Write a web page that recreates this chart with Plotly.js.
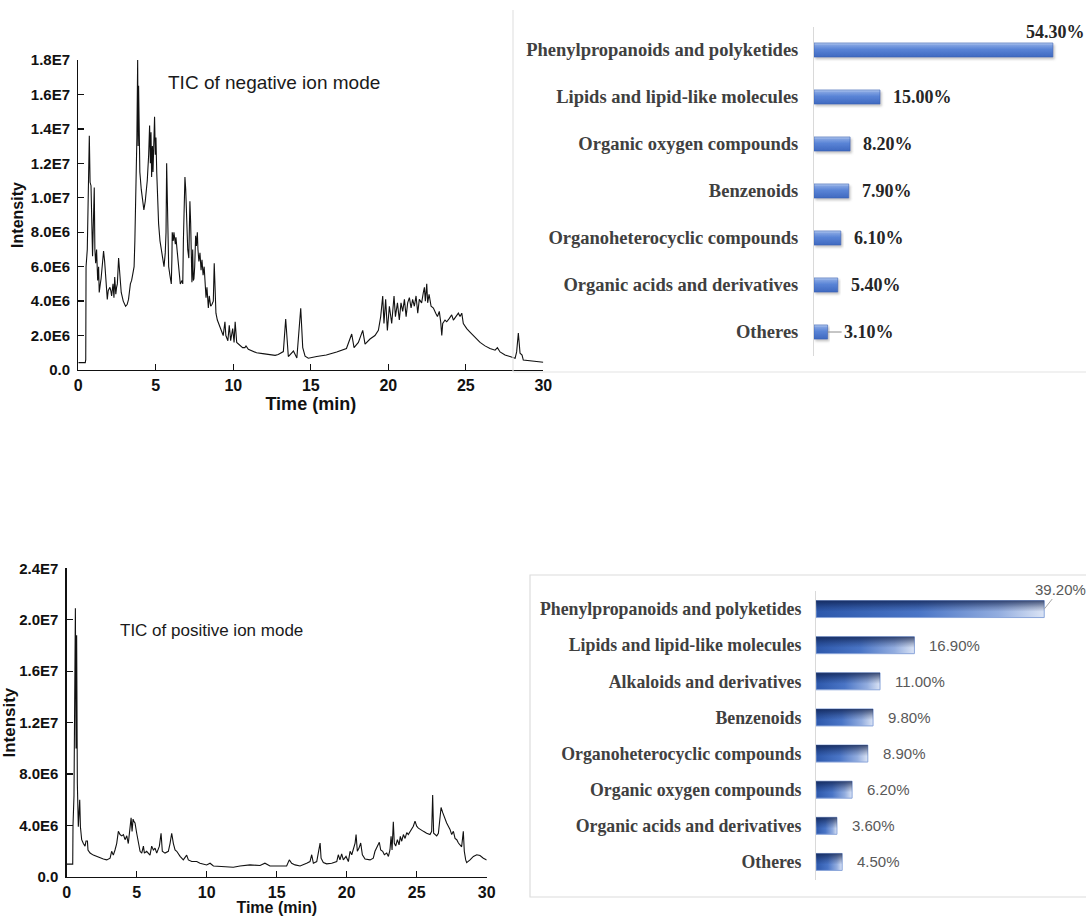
<!DOCTYPE html>
<html>
<head>
<meta charset="utf-8">
<script src="https://cdn.plot.ly/plotly-3.0.1.min.js"></script>
<style>
  html, body { margin: 0; padding: 0; background: #ffffff; }
  #chart { width: 1086px; height: 916px; }
</style>
</head>
<body>
<div id="chart"></div>
<script>
// ---- Total ion chromatogram, negative ion mode (time in min, intensity in units of 1E6) ----
const negTime = [
  0, 0.45, 0.48, 0.5, 0.58, 0.66, 0.71, 0.76, 0.82, 0.92, 0.97, 1.03, 1.07, 1.12, 1.18, 1.22, 1.25, 1.31, 1.35, 1.42,
  1.47, 1.57, 1.63, 1.7, 1.76, 1.87, 1.93, 2.04, 2.1, 2.15, 2.24, 2.3, 2.35, 2.42, 2.47, 2.52, 2.6, 2.68, 2.77, 2.9,
  3.05, 3.15, 3.24, 3.36, 3.44, 3.52, 3.6, 3.65, 3.72, 3.78, 3.83, 3.86, 3.89, 3.93, 3.97, 4.06, 4.15, 4.23, 4.32, 4.4,
  4.45, 4.54, 4.6, 4.65, 4.69, 4.73, 4.78, 4.82, 4.86, 4.92, 4.97, 5.01, 5.06, 5.12, 5.18, 5.27, 5.35, 5.42, 5.53, 5.61,
  5.66, 5.7, 5.76, 5.83, 5.91, 6.0, 6.04, 6.06, 6.13, 6.17, 6.26, 6.3, 6.37, 6.43, 6.52, 6.58, 6.69, 6.74, 6.78, 6.84,
  6.88, 6.93, 6.99, 7.06, 7.13, 7.17, 7.2, 7.25, 7.29, 7.33, 7.38, 7.42, 7.46, 7.51, 7.57, 7.62, 7.68, 7.72, 7.78, 7.85,
  7.92, 7.98, 8.05, 8.12, 8.17, 8.24, 8.3, 8.39, 8.45, 8.54, 8.62, 8.71, 8.77, 8.82, 8.88, 8.97, 9.05, 9.14, 9.25, 9.35,
  9.46, 9.52, 9.65, 9.74, 9.83, 9.96, 10.05, 10.12, 10.22, 10.33, 10.44, 10.6, 10.75, 10.82, 10.97, 11.2, 11.5, 11.9, 12.37, 12.7,
  12.9, 13.23, 13.38, 13.55, 13.88, 14.1, 14.35, 14.48, 14.63, 14.84, 15.38, 16.0, 16.67, 17.3, 17.64, 17.79, 18.07, 18.35, 18.5, 18.82,
  19.14, 19.36, 19.51, 19.64, 19.72, 19.83, 19.94, 20.07, 20.22, 20.37, 20.46, 20.59, 20.71, 20.82, 20.93, 21.04, 21.15, 21.25, 21.36, 21.47,
  21.57, 21.68, 21.79, 21.9, 22.0, 22.15, 22.26, 22.33, 22.39, 22.48, 22.54, 22.63, 22.76, 22.91, 23.06, 23.17, 23.29, 23.38, 23.45, 23.51,
  23.66, 23.77, 23.94, 24.09, 24.2, 24.35, 24.52, 24.63, 24.74, 24.84, 25.06, 25.27, 25.6, 25.92, 26.24, 26.56, 26.89, 27.04, 27.21, 27.53,
  27.85, 28.18, 28.28, 28.39, 28.5, 28.63, 28.71, 29.04, 29.57, 30.0
];
const negIntensity = [
  0.43, 0.43, 0.6, 6.0, 7.0, 12.5, 13.6, 10.9, 10.7, 6.6, 8.5, 10.6, 7.0, 6.2, 7.0, 5.8, 5.2, 6.0, 4.5, 5.0,
  5.3, 6.3, 6.9, 6.3, 5.5, 4.1, 4.6, 4.8, 4.6, 4.3, 5.0, 4.2, 5.4, 4.4, 4.8, 5.0, 6.5, 5.3, 4.5, 4.0,
  3.7, 3.8, 4.1, 5.0, 5.2, 5.6, 6.0, 7.5, 10.5, 13.5, 18.0, 13.0, 16.5, 12.8, 11.5, 10.5, 10.0, 9.3, 9.8, 10.4,
  11.0, 12.5, 14.2, 12.0, 13.8, 11.2, 13.0, 11.5, 13.0, 14.7, 12.5, 13.5, 11.5, 10.0, 8.5, 7.5, 7.0, 6.5, 6.0, 6.8,
  8.0, 12.0, 8.5, 6.0, 5.5, 5.0, 6.5, 8.0, 7.5, 8.0, 7.3, 7.7, 7.0, 6.3, 5.5, 5.0, 5.2, 5.0, 7.5, 10.0,
  11.2, 10.5, 9.0, 7.0, 6.5, 8.0, 9.8, 8.5, 6.0, 5.1, 7.0, 5.2, 5.3, 6.0, 7.8, 7.2, 8.0, 7.0, 6.3, 6.8,
  5.8, 6.4, 5.5, 6.0, 4.8, 4.2, 4.8, 3.6, 4.3, 3.7, 3.8, 4.0, 6.2, 4.0, 3.3, 2.9, 2.7, 2.5, 2.2, 2.0,
  2.8, 2.0, 1.7, 2.6, 1.7, 2.4, 1.6, 2.8, 1.6, 1.5, 1.4, 1.3, 1.3, 1.4, 1.2, 1.1, 1.0, 0.95, 0.9, 0.85,
  0.9, 1.07, 2.96, 0.78, 1.1, 0.7, 3.59, 1.3, 0.8, 0.68, 0.78, 0.87, 1.05, 1.25, 2.09, 1.3, 1.6, 2.3, 1.5, 1.8,
  2.0, 2.3, 3.1, 4.3, 2.7, 4.1, 2.3, 3.7, 2.7, 4.3, 3.1, 3.9, 2.9, 3.9, 3.4, 4.1, 3.1, 3.9, 4.2, 3.6,
  4.1, 3.7, 4.3, 3.3, 4.1, 3.9, 4.5, 4.8, 4.0, 5.0, 3.9, 4.4, 3.7, 3.6, 3.3, 3.1, 3.4, 2.8, 2.0, 2.7,
  2.9, 2.8, 3.0, 3.2, 2.9, 3.1, 3.3, 3.1, 3.3, 2.7, 2.4, 2.2, 1.9, 1.6, 1.4, 1.25, 1.15, 1.3, 1.05, 0.87,
  0.78, 0.68, 1.05, 2.15, 0.97, 0.87, 0.58, 0.55, 0.49, 0.45
];

// ---- Total ion chromatogram, positive ion mode (time in min, intensity in units of 1E6) ----
const posTime = [
  0, 0.43, 0.45, 0.52, 0.62, 0.67, 0.71, 0.76, 0.83, 0.88, 0.93, 0.98, 1.07, 1.19, 1.31, 1.38, 1.48, 1.52, 1.67, 1.9,
  2.14, 2.38, 2.62, 2.86, 3.1, 3.21, 3.33, 3.45, 3.57, 3.69, 3.81, 3.93, 4.05, 4.17, 4.29, 4.4, 4.52, 4.6, 4.67, 4.74,
  4.81, 4.88, 5.0, 5.12, 5.24, 5.36, 5.48, 5.55, 5.71, 5.95, 6.07, 6.19, 6.31, 6.43, 6.62, 6.74, 6.83, 7.02, 7.26, 7.38,
  7.5, 7.62, 7.74, 7.86, 8.1, 8.33, 8.57, 8.69, 8.93, 9.29, 9.52, 10.0, 10.24, 10.48, 10.95, 11.9, 12.38, 13.09, 13.81, 14.16,
  14.52, 15.24, 15.71, 15.9, 16.07, 16.31, 16.67, 17.14, 17.38, 17.5, 17.62, 17.86, 18.1, 18.17, 18.33, 18.57, 18.93, 19.29, 19.4, 19.52,
  19.64, 19.76, 19.95, 20.12, 20.24, 20.36, 20.48, 20.6, 20.67, 20.76, 20.88, 21.0, 21.12, 21.31, 21.67, 21.9, 22.02, 22.19, 22.33, 22.43,
  22.57, 22.69, 22.86, 22.98, 23.09, 23.17, 23.24, 23.33, 23.4, 23.5, 23.62, 23.74, 23.83, 23.93, 24.05, 24.17, 24.29, 24.4, 24.52, 24.64,
  24.76, 24.88, 25.0, 25.12, 25.24, 25.48, 25.71, 25.95, 26.07, 26.14, 26.21, 26.31, 26.43, 26.55, 26.67, 26.74, 26.86, 27.02, 27.14, 27.26,
  27.38, 27.5, 27.62, 27.74, 27.86, 27.98, 28.1, 28.21, 28.33, 28.4, 28.5, 28.57, 28.81, 29.05, 29.29, 29.52, 29.76, 30.0
];
const posIntensity = [
  1.0, 1.0, 4.0, 6.3, 20.9, 10.0, 18.8, 7.3, 3.9, 5.3, 6.0, 3.9, 2.9, 2.6, 2.4, 2.8, 2.8, 2.1, 1.86, 1.7,
  1.6, 1.46, 1.4, 1.33, 1.46, 2.0, 1.7, 2.1, 2.6, 3.55, 3.3, 3.2, 3.3, 2.9, 3.2, 2.6, 3.95, 4.6, 3.55, 4.5,
  4.3, 4.2, 3.4, 2.5, 2.0, 1.86, 2.4, 1.86, 2.0, 1.7, 2.4, 2.1, 2.25, 1.86, 2.4, 3.4, 2.0, 1.86, 2.0, 2.6,
  3.4, 2.6, 2.1, 2.0, 1.6, 1.33, 1.7, 1.33, 1.2, 1.2, 1.07, 0.94, 1.07, 0.86, 0.81, 0.76, 0.86, 0.94, 0.89, 1.07,
  0.86, 0.86, 0.86, 1.33, 1.07, 0.94, 0.86, 1.07, 1.2, 1.73, 1.07, 1.2, 2.64, 1.46, 1.12, 1.02, 1.07, 1.2, 1.73, 1.33,
  1.8, 1.33, 1.6, 1.2, 2.0, 1.73, 2.1, 2.64, 3.3, 2.0, 2.25, 2.64, 1.73, 1.39, 1.33, 1.46, 2.0, 2.4, 2.7, 2.1,
  2.0, 1.73, 1.86, 1.6, 2.1, 3.16, 2.1, 4.3, 2.64, 2.4, 2.9, 2.5, 3.16, 2.78, 3.3, 3.0, 3.45, 3.3, 3.55, 3.7,
  3.95, 4.34, 3.95, 3.8, 3.7, 3.55, 3.4, 3.3, 3.55, 6.38, 3.4, 3.3, 3.2, 3.4, 4.73, 5.4, 5.0, 4.5, 4.2, 3.95,
  3.7, 3.3, 3.55, 3.0, 2.9, 2.64, 2.5, 2.35, 3.55, 2.0, 1.33, 1.12, 1.33, 1.6, 1.73, 1.67, 1.46, 1.33
];

// ---- Intensity tick labels ----
const negTickVals = [0, 2, 4, 6, 8, 10, 12, 14, 16, 18];
const negTickText = ['0.0', '2.0E6', '4.0E6', '6.0E6', '8.0E6', '1.0E7', '1.2E7', '1.4E7', '1.6E7', '1.8E7'];
const posTickVals = [0, 4, 8, 12, 16, 20, 24];
const posTickText = ['0.0', '4.0E6', '8.0E6', '1.2E7', '1.6E7', '2.0E7', '2.4E7'];
const timeTicks = [0, 5, 10, 15, 20, 25, 30];

// ---- Compound class shares (%) ----
const negClasses = ['Phenylpropanoids and polyketides', 'Lipids and lipid-like molecules', 'Organic oxygen compounds',
  'Benzenoids', 'Organoheterocyclic compounds', 'Organic acids and derivatives', 'Otheres'];
const negShares = [54.3, 15.0, 8.2, 7.9, 6.1, 5.4, 3.1];
const posClasses = ['Phenylpropanoids and polyketides', 'Lipids and lipid-like molecules', 'Alkaloids and derivatives',
  'Benzenoids', 'Organoheterocyclic compounds', 'Organic oxygen compounds', 'Organic acids and derivatives', 'Otheres'];
const posShares = [39.2, 16.9, 11.0, 9.8, 8.9, 6.2, 3.6, 4.5];

const W = 1086, H = 916;
const px = v => v / W;            // pixel column -> paper x
const py = v => 1 - v / H;        // pixel row -> paper y

const SANS = 'Liberation Sans, Arial, Helvetica, sans-serif';
const SERIF = 'Liberation Serif, Times New Roman, serif';
const INK = '#111111';

const data = [
  { type: 'scatter', mode: 'lines', x: negTime, y: negIntensity, xaxis: 'x', yaxis: 'y',
    line: { color: INK, width: 1.1 }, hoverinfo: 'skip' },
  { type: 'bar', orientation: 'h', x: negShares, y: negClasses, xaxis: 'x2', yaxis: 'y2',
    width: 0.3, marker: { color: '#4a76cd', line: { color: '#3b63b6', width: 0.6 } }, hoverinfo: 'skip' },
  { type: 'scatter', mode: 'lines', x: posTime, y: posIntensity, xaxis: 'x3', yaxis: 'y3',
    line: { color: INK, width: 1.1 }, hoverinfo: 'skip' },
  { type: 'bar', orientation: 'h', x: posShares, y: posClasses, xaxis: 'x4', yaxis: 'y4',
    width: 0.47, marker: { color: '#3d68bb', line: { color: '#8aa5da', width: 1 } }, hoverinfo: 'skip' }
];

const ticAxis = {
  showline: true, linecolor: INK, linewidth: 1.3, ticks: 'inside', ticklen: 6, tickwidth: 1.3, tickcolor: INK,
  showgrid: false, zeroline: false, fixedrange: true
};

// Value labels next to each bar, positioned from the share values
const annotations = [];
negShares.forEach((v, i) => {
  const base = { xref: 'x2', yref: 'y2', x: v, y: negClasses[i], text: v.toFixed(2) + '%',
    font: { family: SERIF, size: 18, color: '#262626', weight: 'bold' } };
  if (i === 0) {
    annotations.push(Object.assign(base, { showarrow: false, xanchor: 'center', yanchor: 'middle', xshift: 3, yshift: 18 }));
  } else if (v < 4) {
    annotations.push(Object.assign(base, { showarrow: true, arrowhead: 0, arrowwidth: 1, arrowcolor: '#8c8c8c',
      ax: 14, ay: 0, xanchor: 'left', yanchor: 'middle' }));
  } else {
    annotations.push(Object.assign(base, { showarrow: false, xanchor: 'left', yanchor: 'middle', xshift: 11 }));
  }
});
posShares.forEach((v, i) => {
  const base = { xref: 'x4', yref: 'y4', x: v, y: posClasses[i], text: v.toFixed(2) + '%',
    font: { family: SANS, size: 15, color: '#595959' } };
  if (i === 0) {
    annotations.push(Object.assign(base, { showarrow: true, arrowhead: 0, arrowwidth: 1, arrowcolor: '#a6a6a6',
      ax: 16, ay: -20, xanchor: 'center', yanchor: 'middle' }));
  } else {
    annotations.push(Object.assign(base, { showarrow: false, xanchor: 'left', yanchor: 'middle', xshift: 13 }));
  }
});
annotations.push(
  { xref: 'paper', yref: 'paper', x: px(166), y: py(82), xanchor: 'left', yanchor: 'middle', showarrow: false,
    text: 'TIC of negative ion mode', font: { family: SANS, size: 19, color: '#1a1a1a' } },
  { xref: 'paper', yref: 'paper', x: px(118), y: py(630), xanchor: 'left', yanchor: 'middle', showarrow: false,
    text: 'TIC of positive ion mode', font: { family: SANS, size: 17, color: '#1a1a1a' } }
);

const layout = {
  width: W, height: H,
  margin: { l: 0, r: 0, t: 0, b: 0 },
  paper_bgcolor: '#ffffff', plot_bgcolor: 'rgba(0,0,0,0)',
  showlegend: false,
  font: { family: SANS, color: INK },
  // negative-mode chromatogram
  xaxis: Object.assign({}, ticAxis, { domain: [px(78.3), px(543.3)], range: [0, 30], anchor: 'y',
    tickvals: timeTicks, tickfont: { family: SANS, size: 16, weight: 'bold', color: INK },
    title: { text: 'Time (min)', standoff: 5, font: { family: SANS, size: 18, weight: 'bold', color: INK } } }),
  yaxis: Object.assign({}, ticAxis, { domain: [py(370), py(60)], range: [0, 18], anchor: 'x',
    tickvals: negTickVals, ticktext: negTickText, tickfont: { family: SANS, size: 15, weight: 'bold', color: INK },
    ticklabelstandoff: 4,
    title: { text: 'Intensity', standoff: 3, font: { family: SANS, size: 16, weight: 'bold', color: INK } } }),
  // negative-mode class shares
  xaxis2: { domain: [px(814), px(814 + 264)], range: [0, 60], anchor: 'y2', visible: false, fixedrange: true },
  yaxis2: { domain: [py(355.5), py(26.5)], anchor: 'x2', type: 'category', categoryorder: 'array',
    categoryarray: negClasses, range: [negClasses.length - 0.5, -0.5], showline: true, linecolor: '#d9d9d9',
    linewidth: 1, ticks: '', showgrid: false, zeroline: false, ticklabelstandoff: 11, fixedrange: true,
    tickfont: { family: SERIF, size: 18.5, weight: 'bold', color: '#404040' } },
  // positive-mode chromatogram
  xaxis3: Object.assign({}, ticAxis, { domain: [px(66.7), px(486.7)], range: [0, 30], anchor: 'y3',
    tickvals: timeTicks, tickfont: { family: SANS, size: 16, weight: 'bold', color: INK },
    title: { text: 'Time (min)', standoff: 2, font: { family: SANS, size: 16, weight: 'bold', color: INK } } }),
  yaxis3: Object.assign({}, ticAxis, { domain: [py(877), py(568.3)], range: [0, 24], anchor: 'x3',
    tickvals: posTickVals, ticktext: posTickText, tickfont: { family: SANS, size: 15, weight: 'bold', color: INK },
    ticklabelstandoff: 4,
    title: { text: 'Intensity', standoff: 2, font: { family: SANS, size: 17, weight: 'bold', color: INK } } }),
  // positive-mode class shares
  xaxis4: { domain: [px(816), px(816 + 262)], range: [0, 45], anchor: 'y4', visible: false, fixedrange: true },
  yaxis4: { domain: [py(880), py(591)], anchor: 'x4', type: 'category', categoryorder: 'array',
    categoryarray: posClasses, range: [posClasses.length - 0.5, -0.5], showline: true, linecolor: '#d9d9d9',
    linewidth: 1, ticks: '', showgrid: false, zeroline: false, ticklabelstandoff: 10, fixedrange: true,
    tickfont: { family: SERIF, size: 17.8, weight: 'bold', color: '#404040' } },
  shapes: [
    // frame around the negative-mode class panel
    { type: 'line', xref: 'paper', yref: 'paper', x0: px(513), x1: px(513), y0: py(10), y1: py(372),
      line: { color: '#e3e3e3', width: 1.2 } },
    { type: 'line', xref: 'paper', yref: 'paper', x0: px(513), x1: 1, y0: py(372), y1: py(372),
      line: { color: '#e3e3e3', width: 1.2 } },
    // frame around the positive-mode class panel
    { type: 'rect', xref: 'paper', yref: 'paper', x0: px(530), x1: px(1096), y0: py(897), y1: py(575),
      line: { color: '#dcdcdc', width: 1.2 }, fillcolor: 'rgba(0,0,0,0)', layer: 'below' }
  ],
  annotations: annotations
};

const SVGNS = 'http://www.w3.org/2000/svg';
function makeGradient(defs, id, stops, dir) {
  const g = document.createElementNS(SVGNS, 'linearGradient');
  g.setAttribute('id', id);
  g.setAttribute('x1', '0'); g.setAttribute('y1', '0');
  g.setAttribute('x2', dir === 'h' ? '1' : '0'); g.setAttribute('y2', dir === 'h' ? '0' : '1');
  stops.forEach(([off, col, op]) => {
    const s = document.createElementNS(SVGNS, 'stop');
    s.setAttribute('offset', off);
    s.setAttribute('stop-color', col);
    s.setAttribute('stop-opacity', op === undefined ? 1 : op);
    g.appendChild(s);
  });
  defs.appendChild(g);
}

// Shaded fills for the bars
function shadeBars(gd) {
  const svg = gd.querySelector('.main-svg');
  let defs = svg.querySelector('defs');
  if (!defs) { defs = document.createElementNS(SVGNS, 'defs'); svg.insertBefore(defs, svg.firstChild); }

  makeGradient(defs, 'negBarFill', [
    ['0', '#b9cdf0'], ['0.18', '#7d9fe0'], ['0.45', '#5a84d6'], ['1', '#3f69c0']
  ], 'v');
  makeGradient(defs, 'posBarFill', [
    ['0', '#2d58ab'], ['0.45', '#4a75c6'], ['0.8', '#93addf'], ['1', '#dbe4f5']
  ], 'h');
  makeGradient(defs, 'posBarShade', [
    ['0', '#0c1d4a', 0.75], ['0.4', '#0c1d4a', 0.25], ['0.65', '#0c1d4a', 0]
  ], 'v');

  const filt = document.createElementNS(SVGNS, 'filter');
  filt.setAttribute('id', 'barShadow');
  filt.setAttribute('x', '-5%'); filt.setAttribute('y', '-30%');
  filt.setAttribute('width', '115%'); filt.setAttribute('height', '180%');
  const ds = document.createElementNS(SVGNS, 'feDropShadow');
  ds.setAttribute('dx', '1.5'); ds.setAttribute('dy', '2');
  ds.setAttribute('stdDeviation', '1.3');
  ds.setAttribute('flood-color', '#7f7f7f'); ds.setAttribute('flood-opacity', '0.45');
  filt.appendChild(ds);
  defs.appendChild(filt);

  gd.querySelectorAll('.subplot.x2y2 .bars .point path').forEach(p => {
    p.style.fill = 'url(#negBarFill)';
    p.setAttribute('filter', 'url(#barShadow)');
  });
  gd.querySelectorAll('.subplot.x4y4 .bars .point path').forEach(p => {
    p.style.fill = 'url(#posBarFill)';
    const c = p.cloneNode(false);
    c.style.fill = 'url(#posBarShade)';
    c.style.stroke = 'none';
    p.parentNode.appendChild(c);
  });
}

Plotly.newPlot('chart', data, layout, { staticPlot: true, displayModeBar: false }).then(shadeBars);
</script>
</body>
</html>
